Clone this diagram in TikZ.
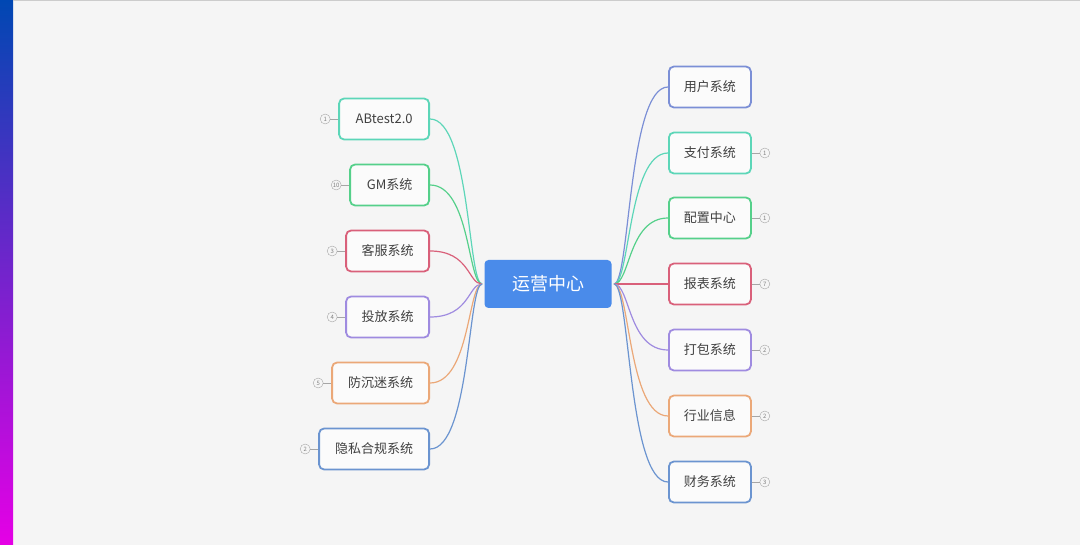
\documentclass[tikz,border=0pt]{standalone}
\usepackage{fontspec}
\setmainfont{Noto Sans CJK SC}
\begin{document}
\begin{tikzpicture}[x=1pt,y=-1pt,
  box/.style={draw=#1,line width=1.8pt,rounded corners=5pt,fill=white!60!gray!8,minimum height=41pt,font=\fontsize{13}{15}\selectfont,text=black!75},
  num/.style={draw=gray!70,circle,inner sep=0pt,minimum size=10pt,font=\fontsize{6}{6}\selectfont,text=gray},
  con/.style={draw=#1,line width=1.2pt}]
\definecolor{cteal}{HTML}{5CD6B8}
\definecolor{cgreen}{HTML}{55D08A}
\definecolor{cred}{HTML}{D9607A}
\definecolor{cpurp}{HTML}{9F8BE0}
\definecolor{corng}{HTML}{EBA878}
\definecolor{cblue}{HTML}{6B94D0}
\definecolor{cbp}{HTML}{7B8FD6}
\definecolor{cmain}{HTML}{4A8BEA}
\fill[gray!8] (0,0) rectangle (1080,545);
\useasboundingbox (0,0) rectangle (1080,545);
\shade[top color=blue!60!cyan!70!black,bottom color=magenta!80!violet] (0,0) rectangle (13,545);
\draw[gray!40] (13,0.5) -- (1080,0.5);
\node[fill=cmain,rounded corners=4pt,minimum width=127pt,minimum height=48pt,text=white,font=\fontsize{18}{20}\selectfont] (c) at (548,284) {运营中心};
\coordinate (cl) at (482,284);
\coordinate (cr) at (614,284);
\foreach \n/\t/\c/\y/\w/\k in {a/ABtest2.0/cteal/119/90/1, b/GM系统/cgreen/185/79/10, d/客服系统/cred/251/83/3, e/投放系统/cpurp/317/83/4, f/防沉迷系统/corng/383/97/5, g/隐私合规系统/cblue/449/110/2}{
  \node[box=\c,minimum width=\w pt,anchor=east] (\n) at (430,\y) {\t};
  \node[num] (\n n) at ([xshift=-13pt]\n.west) {\k};
  \draw[gray!70] (\n n) -- (\n.west);
  \draw[con=\c] (\n.east) .. controls (470,\y) and (468,284) .. (cl);
}
\foreach \n/\t/\c/\y in {r1/用户系统/cbp/87, r2/支付系统/cteal/153, r3/配置中心/cgreen/218, r4/报表系统/cred/284, r5/打包系统/cpurp/350, r6/行业信息/corng/416, r7/财务系统/cblue/482}{
  \node[box=\c,minimum width=82pt,anchor=west] (\n) at (668,\y) {\t};
  \draw[con=\c] (cr) .. controls (630,284) and (628,\y) .. (\n.west);
}
\foreach \n/\k in {r2/1,r3/1,r4/7,r5/2,r6/2,r7/3}{
  \node[num] (\n n) at ([xshift=13pt]\n.east) {\k};
  \draw[gray!70] (\n n) -- (\n.east);
}
\end{tikzpicture}
\end{document}
